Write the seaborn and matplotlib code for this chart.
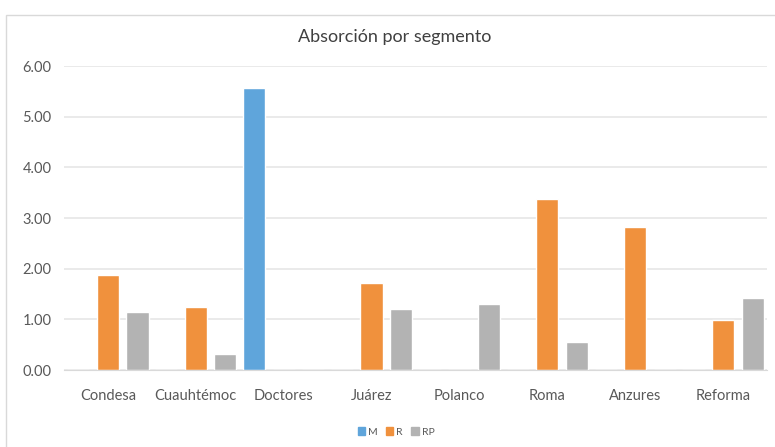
import matplotlib
matplotlib.use("Agg")
import matplotlib.pyplot as plt
import matplotlib.patches as mpatches
import seaborn as sns
import pandas as pd

# Data
barrios = ["Condesa", "Cuauhtémoc", "Doctores", "Juárez", "Polanco", "Roma", "Anzures", "Reforma"]
serie_m = [0, 0, 5.56, 0, 0, 0, 0, 0]
serie_r = [1.87, 1.24, 0, 1.71, 0, 3.37, 2.83, 0.99]
serie_rp = [1.14, 0.31, 0, 1.20, 1.30, 0.55, 0, 1.43]
segmentos = ["M", "R", "RP"]
colores = ["#5fa5db", "#f0913d", "#b3b3b3"]
y_ticks = [0, 1, 2, 3, 4, 5, 6]

df = pd.DataFrame({
    "barrio": barrios * 3,
    "segmento": [s for s in segmentos for _ in barrios],
    "valor": serie_m + serie_r + serie_rp,
})

sns.set_style("white")
plt.rcParams["font.family"] = ["Lato", "DejaVu Sans"]

fig = plt.figure(figsize=(7.75, 4.47), dpi=100)
ax = fig.add_axes([64 / 775, 1 - 370 / 447, 703 / 775, 304 / 447])

sns.barplot(data=df, x="barrio", y="valor", hue="segmento", order=barrios,
            hue_order=segmentos, palette=colores, width=1.01, gap=0.25,
            saturation=1, ax=ax, legend=False)

ax.set_xlim(-0.5, 7.5)
ax.set_ylim(0, 6)
ax.set_yticks(y_ticks)
ax.set_yticklabels([f"{v:.2f}" for v in y_ticks])
ax.yaxis.grid(True, color="#e6e6e6", linewidth=1.2)
ax.set_axisbelow(True)
for s in ["top", "right", "left"]:
    ax.spines[s].set_visible(False)
ax.spines["bottom"].set_color("#d9d9d9")
ax.tick_params(axis="both", length=0, labelsize=10.5, colors="#595959")
ax.tick_params(axis="y", pad=9)
ax.tick_params(axis="x", pad=14)
ax.set_xlabel("")
ax.set_ylabel("")

fig.text(395 / 775, 1 - 37 / 447, "Absorción por segmento", ha="center", va="center",
         fontsize=13, color="#404040")

# Chart frame
fig.patches.append(mpatches.Rectangle((6 / 775, -0.05), 1.0, 1 - 15 / 447 + 0.05,
                                      transform=fig.transFigure, fill=False,
                                      edgecolor="#d9d9d9", linewidth=1))

handles = [mpatches.Patch(color=c, label=s) for s, c in zip(segmentos, colores)]
fig.legend(handles=handles, loc="center", bbox_to_anchor=(396 / 775, 1 - 432 / 447),
           ncol=3, frameon=False, fontsize=7.5, handlelength=0.7, handleheight=0.7,
           handletextpad=0.3, columnspacing=0.8, labelcolor="#595959")

fig.savefig("out.png", dpi=100)
